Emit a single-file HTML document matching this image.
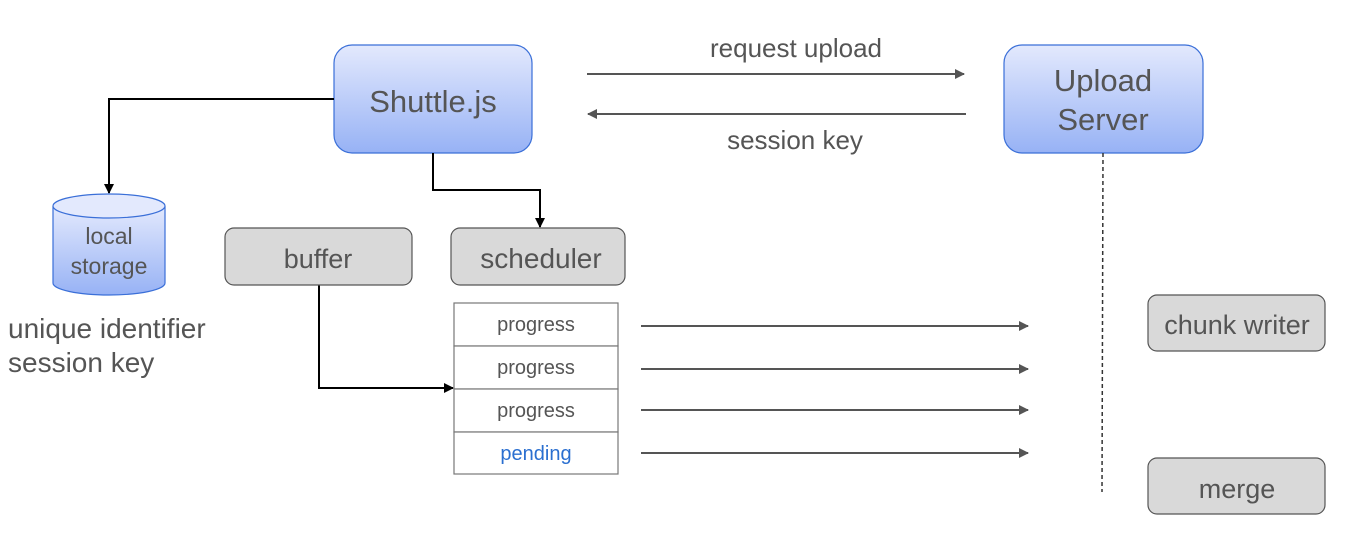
<!DOCTYPE html>
<html><head><style>
body{margin:0;background:#fff;}
svg text{font-family:"Liberation Sans","DejaVu Sans",sans-serif;fill:#555;}
</style></head><body>
<svg width="1356" height="538" viewBox="0 0 1356 538" xmlns="http://www.w3.org/2000/svg">
<defs>
<linearGradient id="bg" x1="0" y1="0" x2="0" y2="1">
<stop offset="0" stop-color="#e3e9fd"/><stop offset="1" stop-color="#97b2f5"/>
</linearGradient>
<marker id="ab" markerWidth="10" markerHeight="10" refX="9" refY="5" orient="auto" markerUnits="userSpaceOnUse"><path d="M0,0 L10,5 L0,10z" fill="#000"/></marker>
<marker id="ag" markerWidth="10" markerHeight="10" refX="9" refY="5" orient="auto" markerUnits="userSpaceOnUse"><path d="M0,0 L10,5 L0,10z" fill="#555"/></marker>
</defs>
<rect x="334" y="45" width="198" height="108" rx="18" fill="url(#bg)" stroke="#3a6fd8" stroke-width="1.2"/>
<text x="433" y="112" font-size="31" text-anchor="middle">Shuttle.js</text>
<rect x="1004" y="45" width="199" height="108" rx="18" fill="url(#bg)" stroke="#3a6fd8" stroke-width="1.2"/>
<text x="1103" y="91" font-size="31" text-anchor="middle">Upload</text>
<text x="1103" y="130" font-size="31" text-anchor="middle">Server</text>
<line x1="587" y1="74" x2="964" y2="74" stroke="#555" stroke-width="2" marker-end="url(#ag)"/>
<line x1="966" y1="114" x2="588" y2="114" stroke="#555" stroke-width="2" marker-end="url(#ag)"/>
<text x="796" y="57" font-size="26" text-anchor="middle">request upload</text>
<text x="795" y="149" font-size="26" text-anchor="middle">session key</text>
<polyline points="334,99 109,99 109,193" fill="none" stroke="#000" stroke-width="2" marker-end="url(#ab)"/>
<polyline points="433,153 433,190 540,190 540,227" fill="none" stroke="#000" stroke-width="2" marker-end="url(#ab)"/>
<polyline points="319,285 319,388 453,388" fill="none" stroke="#000" stroke-width="2" marker-end="url(#ab)"/>
<path d="M53,206 L53,283 A56,12 0 0 0 165,283 L165,206" fill="url(#bg)" stroke="#3a6fd8" stroke-width="1.2"/>
<ellipse cx="109" cy="206" rx="56" ry="12" fill="#e3e9fd" stroke="#3a6fd8" stroke-width="1.2"/>
<text x="109" y="244" font-size="23" text-anchor="middle">local</text>
<text x="109" y="274" font-size="23" text-anchor="middle">storage</text>
<text x="8" y="338" font-size="28">unique identifier</text>
<text x="8" y="372" font-size="28">session key</text>
<rect x="225" y="228" width="187" height="57" rx="9" fill="#d9d9d9" stroke="#555" stroke-width="1.2"/>
<text x="318" y="268" font-size="27" text-anchor="middle">buffer</text>
<rect x="451" y="228" width="174" height="57" rx="9" fill="#d9d9d9" stroke="#555" stroke-width="1.2"/>
<text x="541" y="268" font-size="28" text-anchor="middle">scheduler</text>
<g stroke="#777" stroke-width="1.2" fill="#fff">
<rect x="454" y="303" width="164" height="43"/>
<rect x="454" y="346" width="164" height="43"/>
<rect x="454" y="389" width="164" height="43"/>
<rect x="454" y="432" width="164" height="42"/>
</g>
<text x="536" y="331" font-size="20" text-anchor="middle">progress</text>
<text x="536" y="374" font-size="20" text-anchor="middle">progress</text>
<text x="536" y="417" font-size="20" text-anchor="middle">progress</text>
<text x="536" y="460" font-size="20" text-anchor="middle" style="fill:#2a6fd0">pending</text>
<g stroke="#555" stroke-width="2">
<line x1="641" y1="326" x2="1028" y2="326" marker-end="url(#ag)"/>
<line x1="641" y1="369" x2="1028" y2="369" marker-end="url(#ag)"/>
<line x1="641" y1="410" x2="1028" y2="410" marker-end="url(#ag)"/>
<line x1="641" y1="453" x2="1028" y2="453" marker-end="url(#ag)"/>
</g>
<line x1="1103" y1="153" x2="1102" y2="492" stroke="#333" stroke-width="1.5" stroke-dasharray="4,3"/>
<rect x="1148" y="295" width="177" height="56" rx="9" fill="#d9d9d9" stroke="#555" stroke-width="1.2"/>
<text x="1237" y="334" font-size="27" text-anchor="middle">chunk writer</text>
<rect x="1148" y="458" width="177" height="56" rx="9" fill="#d9d9d9" stroke="#555" stroke-width="1.2"/>
<text x="1237" y="498" font-size="27" text-anchor="middle">merge</text>
</svg>
</body></html>
